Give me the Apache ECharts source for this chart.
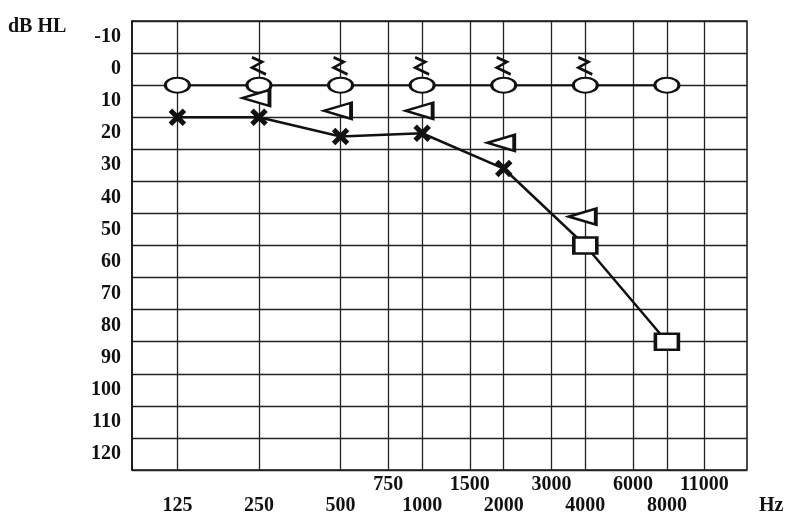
<!DOCTYPE html>
<html><head><meta charset="utf-8">
<script src="https://cdn.jsdelivr.net/npm/echarts@6/dist/echarts.min.js"></script>
<style>html,body{margin:0;padding:0;background:#fff}#c{width:791px;height:529px}</style>
</head><body><div id="c"></div>
<script>
// ---- data ----
const dbLabels = ['-10','0','10','20','30','40','50','60','70','80','90','100','110','120'];
const gridFreqs = [125,250,500,750,1000,1500,2000,3000,4000,6000,8000,11000];
const mainFreqLabels = [125,250,500,1000,2000,4000,8000];
const midFreqLabels = [750,1500,3000,6000,11000];
const circleFreqs = [125,250,500,1000,2000,4000,8000];
const circleValues = [0,0,0,0,0,0,0];
const crossFreqs = [125,250,500,1000,2000];
const crossValues = [10,10,16,15,26];
const squareFreqs = [4000,8000];
const squareValues = [50,80];
const triFreqs = [250,500,1000,2000,4000];
const triValues = [4,8,8,18,41];
const zigFreqs = [250,500,1000,2000,4000];
const zigValues = [-6,-6,-6,-6,-6];

const pairs = (f, v) => f.map((x, i) => [x, v[i]]);
const FONT = 'Liberation Serif';
const INK = '#111';
const labelStyle = {fontFamily: FONT, fontSize: 20, fontWeight: 'bold', color: INK, formatter: v => String(v)};

const chart = echarts.init(document.getElementById('c'), null, {renderer: 'canvas'});
chart.setOption({
  animation: false,
  backgroundColor: '#fff',
  grid: {left: 132, right: 44, top: 21, bottom: 59, show: true, borderColor: INK, borderWidth: 1.5, backgroundColor: 'transparent'},
  xAxis: [
    {type: 'log', logBase: 2, min: 85, max: 15800, position: 'bottom',
     axisLine: {show: false}, axisTick: {show: false, customValues: gridFreqs},
     splitLine: {show: true, lineStyle: {color: '#222', width: 1.3}},
     axisLabel: Object.assign({customValues: mainFreqLabels, margin: 26}, labelStyle)},
    {type: 'log', logBase: 2, min: 85, max: 15800, position: 'bottom', offset: 0,
     axisLine: {show: false}, axisTick: {show: false}, splitLine: {show: false},
     axisLabel: Object.assign({customValues: midFreqLabels, margin: 5}, labelStyle)}
  ],
  yAxis: [
    {type: 'category', data: dbLabels, inverse: true, boundaryGap: true,
     axisLine: {show: true, lineStyle: {color: INK, width: 1.5}}, axisTick: {show: false},
     splitLine: {show: true, interval: 0, lineStyle: {color: '#222', width: 1.3}},
     axisLabel: Object.assign({interval: 0, margin: 11}, labelStyle)},
    {type: 'value', min: -20, max: 120, inverse: true, show: false}
  ],
  graphic: [
    {type: 'text', left: 8, top: 17, style: {text: 'dB HL', font: 'bold 20px "Liberation Serif"', fill: INK}},
    {type: 'text', left: 759, top: 496, style: {text: 'Hz', font: 'bold 20px "Liberation Serif"', fill: INK}}
  ],
  series: [
    {type: 'line', xAxisIndex: 0, yAxisIndex: 1, data: pairs(crossFreqs, crossValues).concat(pairs(squareFreqs, squareValues)),
     symbol: 'none', lineStyle: {color: INK, width: 2.5}, z: 2, silent: true},
    {type: 'line', xAxisIndex: 0, yAxisIndex: 1, data: pairs(circleFreqs, circleValues),
     symbol: 'circle', symbolSize: [24, 15], showAllSymbol: true,
     itemStyle: {color: '#fff', borderColor: INK, borderWidth: 2.5, opacity: 1},
     lineStyle: {color: INK, width: 2}, z: 3, silent: true},
    {type: 'scatter', xAxisIndex: 0, yAxisIndex: 1, data: pairs(crossFreqs, crossValues),
     symbol: 'path://M0,0L10,10M10,0L0,10', symbolSize: 14,
     itemStyle: {color: 'rgba(0,0,0,0)', borderColor: INK, borderWidth: 5, opacity: 1}, z: 4, silent: true},
    {type: 'scatter', xAxisIndex: 0, yAxisIndex: 1, data: pairs(squareFreqs, squareValues),
     symbol: 'rect', symbolSize: [23, 16],
     itemStyle: {color: '#fff', borderColor: INK, borderWidth: 3, opacity: 1}, z: 4, silent: true},
    {type: 'scatter', xAxisIndex: 0, yAxisIndex: 1, data: pairs(triFreqs, triValues),
     symbol: 'path://M0,5L10,0L10,10Z', symbolSize: [27, 16], symbolKeepAspect: false, symbolOffset: [-3, 0],
     itemStyle: {color: '#fff', borderColor: INK, borderWidth: 3, opacity: 1}, z: 4, silent: true},
    {type: 'scatter', xAxisIndex: 0, yAxisIndex: 1, data: pairs(zigFreqs, zigValues),
     symbol: 'path://M1,0L9,4L1,9L12,15', symbolSize: [14, 17], symbolKeepAspect: false,
     itemStyle: {color: 'rgba(0,0,0,0)', borderColor: INK, borderWidth: 2.5, opacity: 1}, z: 4, silent: true}
  ]
});
</script></body></html>
